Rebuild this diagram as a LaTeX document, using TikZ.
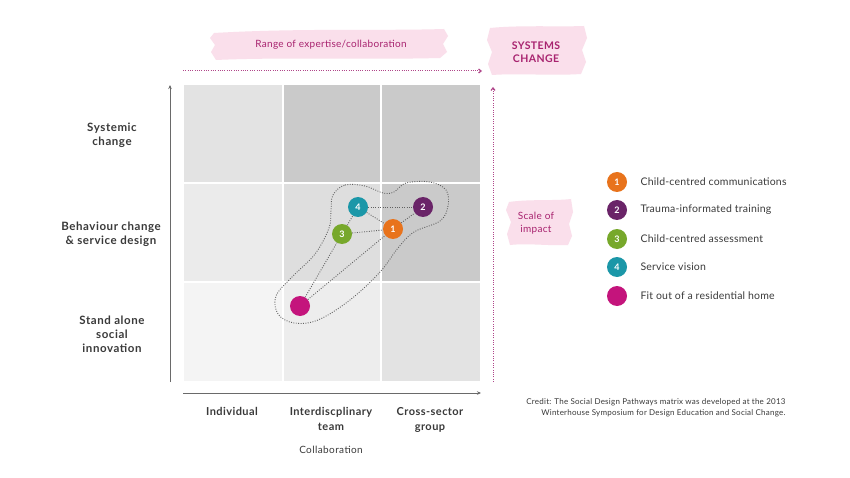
\documentclass[tikz,border=0pt]{standalone}
\usepackage{fontspec}
\setmainfont{Lato}
\usetikzlibrary{arrows.meta}
\definecolor{cA}{HTML}{E3E3E3}
\definecolor{cB}{HTML}{CACACA}
\definecolor{cC}{HTML}{EBEBEB}
\definecolor{cD}{HTML}{DEDEDE}
\definecolor{cE}{HTML}{F4F4F4}
\definecolor{cF}{HTML}{EDEDED}
\definecolor{txt}{HTML}{3A3A3A}
\definecolor{axisgray}{HTML}{6A6A6A}
\definecolor{mag}{HTML}{A8236F}
\definecolor{magline}{HTML}{B0468A}
\definecolor{brushpink}{HTML}{FADFEB}
\definecolor{corange}{HTML}{E8731C}
\definecolor{cpurple}{HTML}{6A2468}
\definecolor{cgreen}{HTML}{77A82B}
\definecolor{cteal}{HTML}{1B97A8}
\definecolor{cmag}{HTML}{C4147C}
\tikzset{
  cell/.style={inner sep=0pt, outer sep=0pt, minimum width=98pt, minimum height=97pt},
  dot/.style={circle, inner sep=0pt, minimum size=20pt, text=white, font=\fontsize{9}{9}\selectfont\bfseries},
  link/.style={draw=txt!80, line width=0.9pt, dash pattern=on 0.9pt off 1.5pt},
  blob/.style={draw=txt!80, line width=0.9pt, dash pattern=on 0.9pt off 1.5pt},
  axisline/.style={draw=axisgray, line width=0.9pt, -{Stealth[length=4pt,width=3.5pt]}},
  pinkline/.style={draw=magline, line width=1pt, dash pattern=on 1pt off 1.3pt, -{Straight Barb[length=2.5pt,width=4pt,line width=1.2pt]}},
  rowlab/.style={text=txt, align=center, font=\fontsize{11.5}{14}\selectfont\bfseries\addfontfeatures{LetterSpace=5}},
  collab/.style={text=txt, align=center, anchor=north, font=\fontsize{11}{15}\selectfont\bfseries\addfontfeatures{LetterSpace=4}},
  legtext/.style={text=txt, anchor=west, font=\fontsize{10.5}{12}\selectfont\addfontfeatures{LetterSpace=2}},
  pinklab/.style={text=mag, align=center, font=\fontsize{10}{13}\selectfont\addfontfeatures{LetterSpace=3}},
  brush/.style={fill=brushpink},
}
\begin{document}
\begin{tikzpicture}[x=1pt,y=-1pt]
\useasboundingbox[fill=white] (0,0) rectangle (850,478);

% brush backgrounds
\fill[brush] (214,33) .. controls (300,28) and (380,31) .. (444,29) -- (448,36) -- (443,44) -- (447,52) -- (440,58) .. controls (360,60) and (280,57) .. (216,60) -- (211,52) -- (215,45) -- (210,38) -- cycle;
\fill[brush] (490,28) .. controls (520,25) and (560,27) .. (584,26) -- (587,38) -- (582,50) -- (586,62) -- (581,74) .. controls (550,76) and (520,73) .. (492,75) -- (488,64) -- (492,52) -- (487,40) -- cycle;
\fill[brush] (509,202) .. controls (530,199) and (555,201) .. (571,199) -- (573,212) -- (569,224) -- (572,236) -- (568,245) .. controls (548,246) and (528,243) .. (510,245) -- (507,234) -- (511,222) -- (506,210) -- cycle;

\node[pinklab] (range) at (331,45) {Range of expertise/collaboration};
\node[pinklab, font=\fontsize{10.5}{13}\selectfont\bfseries\addfontfeatures{LetterSpace=4}] (sys) at (536,52) {SYSTEMS\\CHANGE};
\node[pinklab, font=\fontsize{10}{12.5}\selectfont\addfontfeatures{LetterSpace=3}] (scale) at (536,223) {Scale of\\impact};

% grid cells
\node[cell, fill=cA] (c13) at (232.5,133.5) {};
\node[cell, fill=cB, minimum width=96pt] (c23) at (332,133.5) {};
\node[cell, fill=cB] (c33) at (431,133.5) {};
\node[cell, fill=cC] (c12) at (232.5,232.5) {};
\node[cell, fill=cD, minimum width=96pt] (c22) at (332,232.5) {};
\node[cell, fill=cB] (c32) at (431,232.5) {};
\node[cell, fill=cE, minimum height=98pt] (c11) at (232.5,332) {};
\node[cell, fill=cF, minimum width=96pt, minimum height=98pt] (c21) at (332,332) {};
\node[cell, fill=cA, minimum height=98pt] (c31) at (431,332) {};

% axes
\coordinate (yb) at (170,382);
\coordinate (yt) at (170,85);
\coordinate (xl) at (183,393);
\coordinate (xr) at (481,393);
\draw[axisline] (yb) -- (yt);
\draw[axisline] (xl) -- (xr);
\coordinate (pl) at (183,71);
\coordinate (pr) at (482,71);
\draw[pinkline] (pl) -- (pr);
\coordinate (vb) at (493,382);
\coordinate (vt) at (493,87);
\draw[pinkline] (vb) -- (vt);

% blob
\draw[blob] plot[smooth cycle, tension=0.6] coordinates {
 (333,195) (345,185) (365,186) (383,193) (394,192) (406,183) (430,182) (446,190) (448,206)
 (440,221) (414,232) (398,248) (380,272) (350,300) (318,320) (294,323) (278,314) (276,296)
 (292,277) (315,254) (329,228) (331,210)};

% circles
\node[dot, fill=corange] (n1) at (393,229) {1};
\node[dot, fill=cpurple] (n2) at (423,207) {2};
\node[dot, fill=cgreen] (n3) at (342,234) {3};
\node[dot, fill=cteal] (n4) at (358,207) {4};
\node[dot, fill=cmag] (n5) at (300,306) {};
\draw[link] (n4) -- (n2);
\draw[link] (n4) -- (n1);
\draw[link] (n1) -- (n2);
\draw[link] (n3) -- (n1);
\draw[link] (n3) -- (n4);
\draw[link] (n5) -- (n3);
\draw[link] (n5) -- (n1);

% row labels
\node[rowlab] (r3) at (112,135) {Systemic\\change};
\node[rowlab] (r2) at (111,234.5) {Behaviour change\\\& service design};
\node[rowlab] (r1) at (112,334) {Stand alone\\social\\innovation};

% column labels
\node[collab] (k1) at (232,404) {Individual};
\node[collab] (k2) at (331,404) {Interdiscplinary\\team};
\node[collab] (k3) at (430,404) {Cross-sector\\group};
\node[text=txt, font=\fontsize{10}{11}\selectfont\addfontfeatures{LetterSpace=4}] (col) at (331,450) {Collaboration};

% legend
\node[dot, fill=corange] (l1) at (617,182) {1};
\node[dot, fill=cpurple] (l2) at (617,210) {2};
\node[dot, fill=cgreen] (l3) at (617,239) {3};
\node[dot, fill=cteal] (l4) at (617,267) {4};
\node[dot, fill=cmag] (l5) at (617,296) {};
\node[legtext] (t1) at (637,182) {Child-centred communications};
\node[legtext] (t2) at (637,210) {Trauma-informated training};
\node[legtext] (t3) at (637,239) {Child-centred assessment};
\node[legtext] (t4) at (637,267) {Service vision};
\node[legtext] (t5) at (637,296) {Fit out of a residential home};

% credit
\node[text=txt, align=right, anchor=north east, font=\fontsize{8}{11}\selectfont\addfontfeatures{LetterSpace=3}] (credit) at (789,395)
 {Credit: The Social Design Pathways matrix was developed at the 2013\\Winterhouse Symposium for Design Education and Social Change.};
\end{tikzpicture}
\end{document}
